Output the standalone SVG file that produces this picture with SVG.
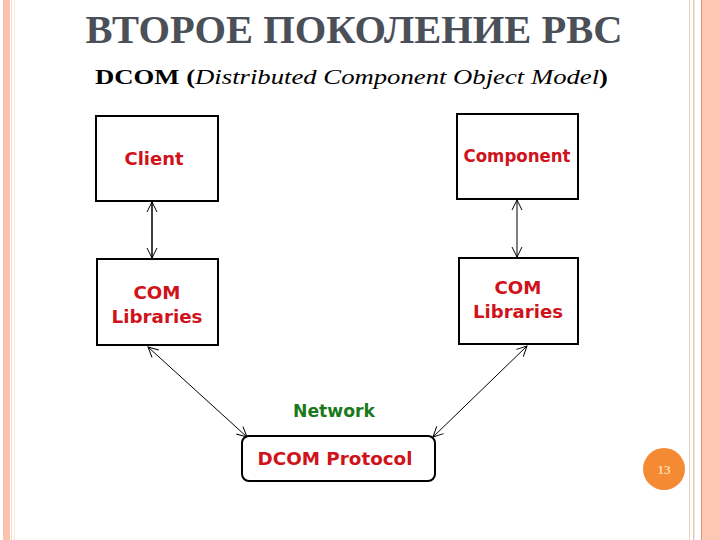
<svg xmlns="http://www.w3.org/2000/svg" width="720" height="540" viewBox="0 0 720 540">
<defs>
<style>
.box{fill:#fff;stroke:#000;stroke-width:2}
.lbl{font-family:"DejaVu Sans","Liberation Sans",sans-serif;font-weight:bold;font-size:18px;fill:#d0121b;text-anchor:middle}
.con{stroke:#000;fill:none}
</style>
<marker id="ah" viewBox="0 0 12 12" refX="11" refY="6" markerWidth="12" markerHeight="12" markerUnits="userSpaceOnUse" orient="auto-start-reverse">
<path d="M1,1 L11,6 L1,11" fill="none" stroke="#000" stroke-width="1"/>
</marker>
</defs>
<rect width="720" height="540" fill="#fff"/>
<g id="frame">
<rect x="3" y="0" width="7" height="540" fill="#fbc3ac"/>
<rect x="11" y="0" width="1" height="540" fill="#f3dcd2"/>
<rect x="14" y="0" width="1" height="540" fill="#f5ecd8"/>
<rect x="689" y="0" width="1" height="540" fill="#e8d2c8"/>
<rect x="693" y="0" width="1.5" height="540" fill="#e6c8bc"/>
<rect x="701" y="0" width="1.5" height="540" fill="#e9906f"/>
<rect x="702.5" y="0" width="17.5" height="540" fill="#fdc7b4"/>
</g>
<text x="354" y="43" font-family="'Liberation Serif','DejaVu Serif',serif" font-size="39" font-weight="bold" fill="#4b4f58" text-anchor="middle" textLength="537" lengthAdjust="spacingAndGlyphs">ВТОРОЕ ПОКОЛЕНИЕ РВС</text>
<text x="95" y="84" font-family="'Liberation Serif','DejaVu Serif',serif" font-size="22" fill="#000" textLength="513" lengthAdjust="spacingAndGlyphs"><tspan font-weight="bold">DCOM (</tspan><tspan font-style="italic">Distributed Component Object Model</tspan><tspan font-weight="bold">)</tspan></text>
<g id="connectors">
<line class="con" x1="152" y1="202" x2="152" y2="258" stroke-width="1.5" marker-start="url(#ah)" marker-end="url(#ah)"/>
<line class="con" x1="517" y1="200" x2="517" y2="257" stroke-width="1" marker-start="url(#ah)" marker-end="url(#ah)"/>
<line class="con" x1="148" y1="347" x2="247" y2="437" stroke-width="1" marker-start="url(#ah)" marker-end="url(#ah)"/>
<line class="con" x1="527" y1="346" x2="433" y2="437" stroke-width="1" marker-start="url(#ah)" marker-end="url(#ah)"/>
</g>
<g id="client">
<rect class="box" x="96" y="116" width="122" height="85"/>
<text class="lbl" x="154" y="165" textLength="59" lengthAdjust="spacingAndGlyphs">Client</text>
</g>
<g id="comlib-left">
<rect class="box" x="97" y="259" width="121" height="86"/>
<text class="lbl" x="157" y="299" textLength="47" lengthAdjust="spacingAndGlyphs">COM</text>
<text class="lbl" x="157" y="323" textLength="91" lengthAdjust="spacingAndGlyphs">Libraries</text>
</g>
<g id="component">
<rect class="box" x="457" y="114" width="121" height="85"/>
<text class="lbl" x="517" y="162" textLength="107" lengthAdjust="spacingAndGlyphs">Component</text>
</g>
<g id="comlib-right">
<rect class="box" x="459" y="258" width="119" height="86"/>
<text class="lbl" x="518" y="294" textLength="47" lengthAdjust="spacingAndGlyphs">COM</text>
<text class="lbl" x="518" y="318" textLength="90" lengthAdjust="spacingAndGlyphs">Libraries</text>
</g>
<g id="network">
<text x="334" y="417" font-family="'DejaVu Sans','Liberation Sans',sans-serif" font-weight="bold" font-size="17" fill="#1a7a1a" text-anchor="middle" textLength="82" lengthAdjust="spacingAndGlyphs">Network</text>
</g>
<g id="dcom-protocol">
<rect class="box" x="242" y="436" width="193" height="45" rx="7"/>
<text class="lbl" x="335" y="465" textLength="155" lengthAdjust="spacingAndGlyphs">DCOM Protocol</text>
</g>
<g id="page-number">
<circle cx="664" cy="469" r="21" fill="#f58a35"/>
<text x="664" y="474" font-family="'Liberation Serif',serif" font-size="13" fill="#fff4dc" text-anchor="middle">13</text>
</g>
</svg>
